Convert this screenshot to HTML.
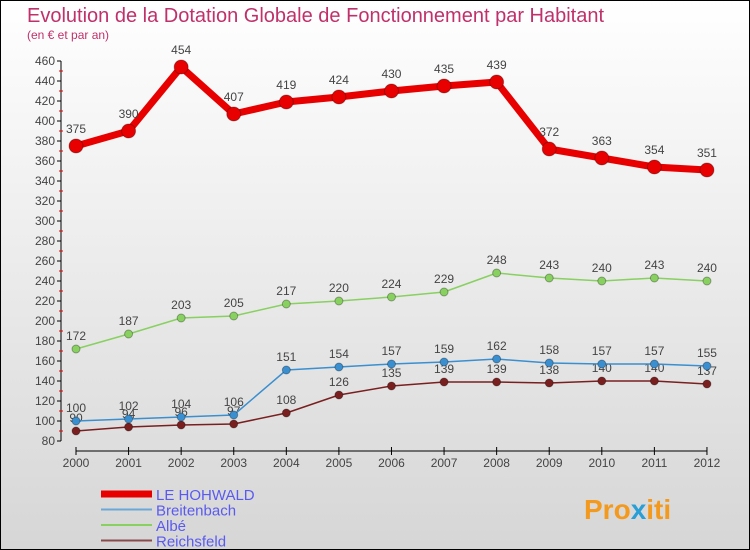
<!DOCTYPE html>
<html><head><meta charset="utf-8"><style>
body{margin:0}
#c{width:750px;height:550px;position:relative;box-sizing:border-box;border:1px solid #000;background:linear-gradient(#fff,#d6d6d6);font-family:"Liberation Sans",sans-serif;overflow:hidden}
</style></head><body>
<div id="c">
<svg id="s" width="748" height="548" style="position:absolute;left:0;top:0">
<text x="26" y="21" font-size="20" fill="#c0306a">Evolution de la Dotation Globale de Fonctionnement par Habitant</text>
<text x="26" y="38" font-size="12" fill="#c0306a">(en € et par an)</text>
<g id="axes"></g><g id="series"></g><g id="legend"></g>
<text x="583" y="518" font-size="28" font-weight="bold" fill="#f39a1e">Pro<tspan fill="#2a9fd6">x</tspan>iti</text>
</svg></div>
<script>
const years=["2000","2001","2002","2003","2004","2005","2006","2007","2008","2009","2010","2011","2012"];
const hohwald=[375,390,454,407,419,424,430,435,439,372,363,354,351];
const breitenbach=[100,102,104,106,151,154,157,159,162,158,157,157,155];
const albe=[172,187,203,205,217,220,224,229,248,243,240,243,240];
const reichsfeld=[90,94,96,97,108,126,135,139,139,138,140,140,137];
const yTicks=[80,100,120,140,160,180,200,220,240,260,280,300,320,340,360,380,400,420,440,460];
const NS="http://www.w3.org/2000/svg";
const X=i=>75+i*52.58, Y=v=>440-(v-80);
function mk(t,a,p){const e=document.createElementNS(NS,t);for(const k in a)e.setAttribute(k,a[k]);p.appendChild(e);return e;}
const ax=document.getElementById('axes');
let yl=mk('line',{x1:60,y1:60,x2:60,y2:440,stroke:'#000'},ax);


yTicks.forEach(v=>{
 mk('line',{x1:56,x2:60,y1:Y(v),y2:Y(v),stroke:'#000'},ax);
 if(v<460) mk('line',{x1:58,x2:62,y1:Y(v+10),y2:Y(v+10),stroke:'#e00'},ax);
 const t=mk('text',{x:54,y:Y(v)+4,'font-size':12,'text-anchor':'end',fill:'#444'},ax);
 t.textContent=v;
 
 
});
let xl=mk('line',{x1:75,y1:450,x2:706,y2:450,stroke:'#000'},ax);


years.forEach((y,i)=>{
 mk('line',{x1:X(i),x2:X(i),y1:446,y2:454,stroke:'#000'},ax);
 const t=mk('text',{x:X(i),y:466,'font-size':12,'text-anchor':'middle',fill:'#444'},ax);
 t.textContent=y;
 
 
});
const sg=document.getElementById('series');
function series(data,color,w,r,name,lblDy){
 const g=mk('g',{},sg);
 
 
 mk('polyline',{points:data.map((v,i)=>X(i)+','+Y(v)).join(' '),fill:'none',stroke:color,'stroke-width':w,'stroke-linejoin':'round'},g);
 data.forEach((v,i)=>{
  const c=mk('circle',{cx:X(i),cy:Y(v),r:r,fill:color,stroke:'rgba(0,0,0,0.3)'},g);
  
  
  const t=mk('text',{x:X(i),y:Y(v)+lblDy,'font-size':12,'text-anchor':'middle',fill:'#444'},g);
  t.textContent=v;
  
  
 });
}
series(reichsfeld,'#7a1f1f',1.5,4,'reichsfeld',-9);
series(breitenbach,'#3a8fd0',1.5,4,'breitenbach',-9);
series(albe,'#88d060',1.5,4,'albe',-9);
series(hohwald,'#e80000',7,7,'hohwald',-13);
const lg=document.getElementById('legend');
[['LE HOHWALD','#e80000',7],['Breitenbach','#6aa8d8',2],['Albé','#88d060',2],['Reichsfeld','#8a4a4a',2]].forEach((e,i)=>{
 const y=493+i*15.5;
 const g=mk('g',{},lg);
 
 
 mk('line',{x1:100,x2:151,y1:y,y2:y,stroke:e[1],'stroke-width':e[2]},g);
 const t=mk('text',{x:155,y:y+6,'font-size':15,fill:'#5a5af0'},g);
 t.textContent=e[0];
});
</script></body></html>
